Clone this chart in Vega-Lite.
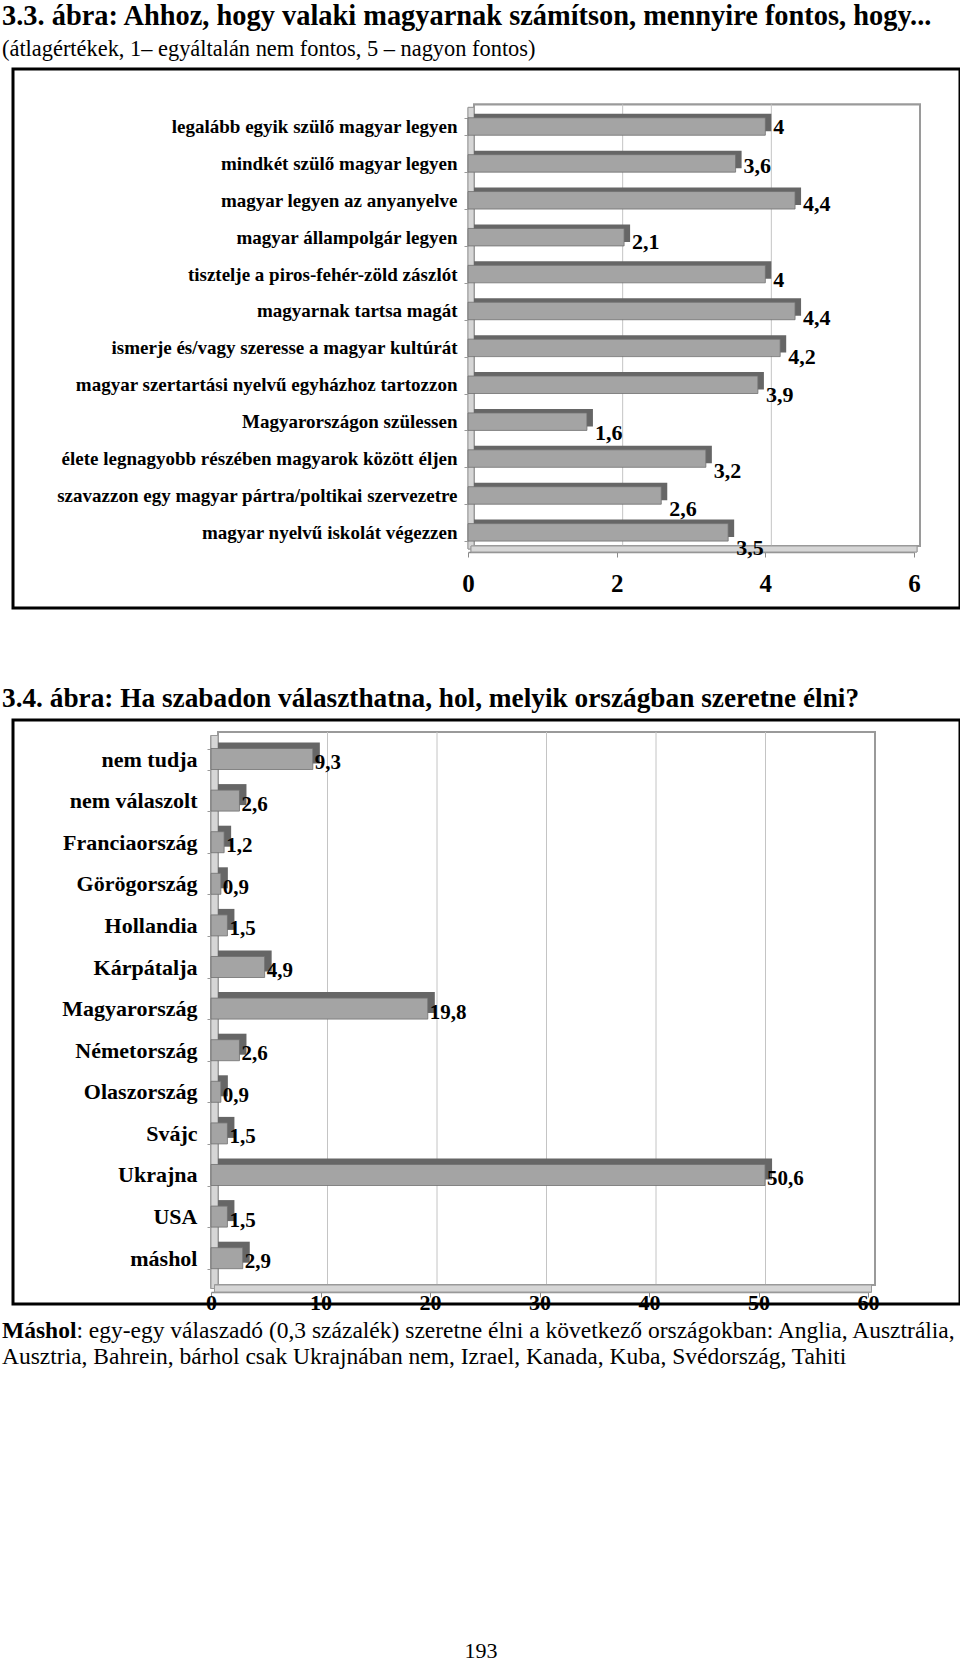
{
  "$schema": "https://vega.github.io/schema/vega-lite/v6.json",
  "background": "white",
  "padding": {"left": 0, "top": 0, "right": 0, "bottom": 0},
  "config": {"view": {"stroke": null}, "font": "Liberation Serif"},
  "datasets": {
    "fontos": [
      {"k": "legalább egyik szülő magyar legyen", "v": 4.0, "c": "4"},
      {"k": "mindkét szülő magyar legyen", "v": 3.6, "c": "3,6"},
      {"k": "magyar legyen az anyanyelve", "v": 4.4, "c": "4,4"},
      {"k": "magyar állampolgár legyen", "v": 2.1, "c": "2,1"},
      {"k": "tisztelje a piros-fehér-zöld zászlót", "v": 4.0, "c": "4"},
      {"k": "magyarnak tartsa magát", "v": 4.4, "c": "4,4"},
      {"k": "ismerje és/vagy szeresse a magyar kultúrát", "v": 4.2, "c": "4,2"},
      {"k": "magyar szertartási nyelvű egyházhoz tartozzon", "v": 3.9, "c": "3,9"},
      {"k": "Magyarországon szülessen", "v": 1.6, "c": "1,6"},
      {"k": "élete legnagyobb részében magyarok között éljen", "v": 3.2, "c": "3,2"},
      {"k": "szavazzon egy magyar pártra/poltikai szervezetre", "v": 2.6, "c": "2,6"},
      {"k": "magyar nyelvű iskolát végezzen", "v": 3.5, "c": "3,5"}
    ],
    "orszag": [
      {"k": "nem tudja", "v": 9.3, "c": "9,3"},
      {"k": "nem válaszolt", "v": 2.6, "c": "2,6"},
      {"k": "Franciaország", "v": 1.2, "c": "1,2"},
      {"k": "Görögország", "v": 0.9, "c": "0,9"},
      {"k": "Hollandia", "v": 1.5, "c": "1,5"},
      {"k": "Kárpátalja", "v": 4.9, "c": "4,9"},
      {"k": "Magyarország", "v": 19.8, "c": "19,8"},
      {"k": "Németország", "v": 2.6, "c": "2,6"},
      {"k": "Olaszország", "v": 0.9, "c": "0,9"},
      {"k": "Svájc", "v": 1.5, "c": "1,5"},
      {"k": "Ukrajna", "v": 50.6, "c": "50,6"},
      {"k": "USA", "v": 1.5, "c": "1,5"},
      {"k": "máshol", "v": 2.9, "c": "2,9"}
    ]
  },
  "title": {"text": "193", "orient": "bottom", "anchor": "middle", "font": "Liberation Serif", "fontSize": 22, "fontWeight": "normal", "color": "#000", "offset": 272},
  "spacing": 4,
  "vconcat": [
    {
      "spacing": 73,
      "vconcat": [
        {
          "width": 947,
          "height": 539,
          "view": {"stroke": "#000", "strokeWidth": 3},
          "title": {"text": "3.3. ábra: Ahhoz, hogy valaki magyarnak számítson, mennyire fontos, hogy...", "subtitle": "(átlagértékek, 1– egyáltalán nem fontos, 5 – nagyon fontos)", "anchor": "start", "dx": -11, "font": "Liberation Serif", "fontSize": 28.4, "fontWeight": "bold", "color": "#000", "subtitleFont": "Liberation Serif", "subtitleFontSize": 22.4, "subtitleFontWeight": "normal", "subtitleColor": "#000", "subtitlePadding": 6, "offset": -1},
          "resolve": {"scale": {"y": "independent"}, "axis": {"y": "independent"}},
          "layer": [
            {
              "data": {"values": [{"g": 2}, {"g": 4}]},
              "layer": [
                {"mark": {"type": "rect", "fill": "white", "stroke": "#9a9a9a", "strokeWidth": 2, "xOffset": 6, "x2Offset": 6},
                 "encoding": {"x": {"datum": 0, "type": "quantitative"}, "x2": {"datum": 6}, "y": {"datum": 0, "type": "quantitative", "scale": {"domain": [0, 1], "range": [477, 35.4]}, "axis": null}, "y2": {"datum": 1}}},
                {"mark": {"type": "rule", "color": "#c4c4c4", "strokeWidth": 1, "xOffset": 6},
                 "encoding": {"x": {"field": "g", "type": "quantitative"}, "y": {"datum": 0, "type": "quantitative"}, "y2": {"datum": 1}}},
                {"mark": {"type": "rect", "fill": "#d6d6d6", "stroke": "#9a9a9a", "strokeWidth": 1, "x2Offset": 6, "yOffset": 3, "y2Offset": 3},
                 "encoding": {"x": {"datum": 0, "type": "quantitative"}, "x2": {"datum": 0}, "y": {"datum": 0, "type": "quantitative"}, "y2": {"datum": 1}}},
                {"mark": {"type": "rect", "fill": "#d6d6d6", "stroke": "#9a9a9a", "strokeWidth": 1, "xOffset": 3, "x2Offset": 3, "y2Offset": 6},
                 "encoding": {"x": {"datum": 0, "type": "quantitative"}, "x2": {"datum": 6}, "y": {"datum": 0, "type": "quantitative"}, "y2": {"datum": 0}}}
              ]
            },
            {
              "data": {"name": "fontos"},
              "layer": [
                {"mark": {"type": "bar", "fill": "#666666", "xOffset": 6, "x2Offset": 6, "yOffset": -4, "y2Offset": -4},
                 "encoding": {
                   "y": {"field": "k", "type": "nominal", "sort": null, "scale": {"range": [48.75, 472.1], "paddingInner": 0.526, "paddingOuter": 0},
                         "axis": {"orient": "left", "offset": -455, "title": null, "domain": false, "ticks": true, "tickBand": "extent", "tickColor": "#9a9a9a", "tickSize": 4, "grid": false, "labelPadding": 7, "labelFont": "Liberation Serif", "labelFontSize": 19, "labelFontWeight": "bold", "labelColor": "#000", "labelLimit": 0}},
                   "x": {"field": "v", "type": "quantitative", "scale": {"domain": [0, 6], "range": [455, 901], "nice": false},
                         "axis": {"orient": "bottom", "offset": -56, "values": [0, 2, 4, 6], "format": "d", "title": null, "grid": false, "domainColor": "#8a8a8a", "domainWidth": 1.5, "tickColor": "#8a8a8a", "tickSize": 5, "labelFont": "Liberation Serif", "labelFontSize": 25, "labelFontWeight": "bold", "labelColor": "#000", "labelPadding": 14, "labelFlush": false, "labelOverlap": false}}
                 }},
                {"mark": {"type": "bar", "fill": "#a4a4a4", "stroke": "#707070", "strokeWidth": 0.8},
                 "encoding": {
                   "y": {"field": "k", "type": "nominal", "sort": null},
                   "x": {"field": "v", "type": "quantitative"}
                 }}
              ]
            },
            {
              "data": {"name": "fontos"},
              "mark": {"type": "text", "align": "left", "baseline": "middle", "dx": 8, "font": "Liberation Serif", "fontSize": 22, "fontWeight": "bold", "color": "#000"},
              "encoding": {
                "y": {"field": "k", "type": "nominal", "sort": null, "scale": {"range": [39.4, 497.7], "paddingInner": 0, "paddingOuter": 0}, "axis": null},
                "x": {"field": "v", "type": "quantitative"},
                "text": {"field": "c"}
              }
            }
          ]
        },
        {
          "width": 947,
          "height": 584,
          "view": {"stroke": "#000", "strokeWidth": 3},
          "title": {"text": "3.4. ábra: Ha szabadon választhatna, hol, melyik országban szeretne élni?", "anchor": "start", "dx": -11, "font": "Liberation Serif", "fontSize": 27.3, "fontWeight": "bold", "color": "#000", "offset": -3},
          "resolve": {"scale": {"y": "independent"}, "axis": {"y": "independent"}},
          "layer": [
            {
              "data": {"values": [{"g": 10}, {"g": 20}, {"g": 30}, {"g": 40}, {"g": 50}]},
              "layer": [
                {"mark": {"type": "rect", "fill": "white", "stroke": "#9a9a9a", "strokeWidth": 2, "xOffset": 7, "x2Offset": 7},
                 "encoding": {"x": {"datum": 0, "type": "quantitative"}, "x2": {"datum": 60}, "y": {"datum": 0, "type": "quantitative", "scale": {"domain": [0, 1], "range": [565, 12]}, "axis": null}, "y2": {"datum": 1}}},
                {"mark": {"type": "rule", "color": "#c4c4c4", "strokeWidth": 1, "xOffset": 7},
                 "encoding": {"x": {"field": "g", "type": "quantitative"}, "y": {"datum": 0, "type": "quantitative"}, "y2": {"datum": 1}}},
                {"mark": {"type": "rect", "fill": "#d6d6d6", "stroke": "#9a9a9a", "strokeWidth": 1, "x2Offset": 7, "yOffset": 3.5, "y2Offset": 3.5},
                 "encoding": {"x": {"datum": 0, "type": "quantitative"}, "x2": {"datum": 0}, "y": {"datum": 0, "type": "quantitative"}, "y2": {"datum": 1}}},
                {"mark": {"type": "rect", "fill": "#d6d6d6", "stroke": "#9a9a9a", "strokeWidth": 1, "xOffset": 3.5, "x2Offset": 3.5, "y2Offset": 7},
                 "encoding": {"x": {"datum": 0, "type": "quantitative"}, "x2": {"datum": 60}, "y": {"datum": 0, "type": "quantitative"}, "y2": {"datum": 0}}}
              ]
            },
            {
              "data": {"name": "orszag"},
              "layer": [
                {"mark": {"type": "bar", "fill": "#666666", "xOffset": 7, "x2Offset": 7, "yOffset": -6, "y2Offset": -6},
                 "encoding": {
                   "y": {"field": "k", "type": "nominal", "sort": null, "scale": {"range": [28.5, 548.7], "paddingInner": 0.495, "paddingOuter": 0},
                         "axis": {"orient": "left", "offset": -198, "title": null, "domain": false, "ticks": true, "tickBand": "extent", "tickColor": "#9a9a9a", "tickSize": 4, "grid": false, "labelPadding": 10, "labelFont": "Liberation Serif", "labelFontSize": 22, "labelFontWeight": "bold", "labelColor": "#000", "labelLimit": 0}},
                   "x": {"field": "v", "type": "quantitative", "scale": {"domain": [0, 60], "range": [198, 855], "nice": false},
                         "axis": {"orient": "bottom", "offset": -12, "values": [0, 10, 20, 30, 40, 50, 60], "format": "d", "title": null, "grid": false, "domainColor": "#8a8a8a", "domainWidth": 1.5, "tickColor": "#8a8a8a", "tickSize": 5, "labelFont": "Liberation Serif", "labelFontSize": 22, "labelFontWeight": "bold", "labelColor": "#000", "labelPadding": -5, "labelFlush": false, "labelOverlap": false}}
                 }},
                {"mark": {"type": "bar", "fill": "#a4a4a4", "stroke": "#707070", "strokeWidth": 0.8},
                 "encoding": {
                   "y": {"field": "k", "type": "nominal", "sort": null},
                   "x": {"field": "v", "type": "quantitative"}
                 }},
                {"mark": {"type": "text", "align": "left", "baseline": "middle", "dx": 2, "dy": 4, "font": "Liberation Serif", "fontSize": 21, "fontWeight": "bold", "color": "#000"},
                 "encoding": {
                   "y": {"field": "k", "type": "nominal", "sort": null},
                   "x": {"field": "v", "type": "quantitative"},
                   "text": {"field": "c"}
                 }}
              ]
            }
          ]
        }
      ]
    },
    {
      "width": 947,
      "height": 26,
      "layer": [
        {
          "data": {"values": [{"sor": 1, "t": "Máshol"}]},
          "mark": {"type": "text", "align": "left", "baseline": "middle", "dx": -11, "font": "Liberation Serif", "fontSize": 23.5, "fontWeight": "bold", "color": "#000"},
          "encoding": {
            "x": {"datum": 0, "type": "quantitative", "scale": {"domain": [0, 1]}, "axis": null},
            "y": {"field": "sor", "type": "ordinal", "scale": {"type": "point", "domain": [1, 2], "padding": 0}, "axis": null},
            "text": {"field": "t"}
          }
        },
        {
          "data": {"values": [{"sor": 1, "t": ": egy-egy válaszadó (0,3 százalék) szeretne élni a következő országokban: Anglia, Ausztrália,"}]},
          "mark": {"type": "text", "align": "left", "baseline": "middle", "dx": 63.4, "font": "Liberation Serif", "fontSize": 23.5, "fontWeight": "normal", "color": "#000"},
          "encoding": {
            "x": {"datum": 0, "type": "quantitative"},
            "y": {"field": "sor", "type": "ordinal"},
            "text": {"field": "t"}
          }
        },
        {
          "data": {"values": [{"sor": 2, "t": "Ausztria, Bahrein, bárhol csak Ukrajnában nem, Izrael, Kanada, Kuba, Svédország, Tahiti"}]},
          "mark": {"type": "text", "align": "left", "baseline": "middle", "dx": -11, "font": "Liberation Serif", "fontSize": 23.5, "fontWeight": "normal", "color": "#000"},
          "encoding": {
            "x": {"datum": 0, "type": "quantitative"},
            "y": {"field": "sor", "type": "ordinal"},
            "text": {"field": "t"}
          }
        }
      ]
    }
  ]
}
